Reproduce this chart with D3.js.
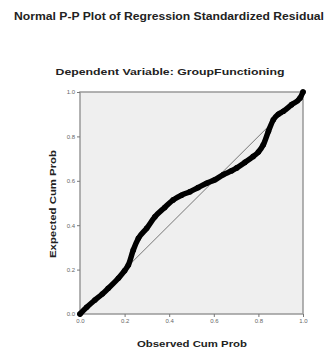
<!DOCTYPE html>
<html><head><meta charset="utf-8">
<script src="https://cdn.jsdelivr.net/npm/d3@7"></script>
<style>body{margin:0;background:#fff}svg{display:block}</style>
</head><body>
<svg id="c" width="328" height="349"></svg>
<script>
const title = "Normal P-P Plot of Regression Standardized Residual";
const subtitle = "Dependent Variable: GroupFunctioning";
const xLabel = "Observed Cum Prob";
const yLabel = "Expected Cum Prob";
const tickValues = [0, 0.2, 0.4, 0.6, 0.8, 1.0];
const tickLabels = ["0.0", "0.2", "0.4", "0.6", "0.8", "1.0"];
const observed = [0, 0.03, 0.067, 0.1, 0.127, 0.172, 0.2, 0.217, 0.239, 0.262, 0.299, 0.336, 0.38, 0.418, 0.455, 0.493, 0.53, 0.568, 0.605, 0.643, 0.68, 0.703, 0.74, 0.777, 0.8, 0.822, 0.845, 0.867, 0.89, 0.912, 0.949, 0.987, 1.0];
const expected = [0, 0.03, 0.063, 0.09, 0.116, 0.161, 0.195, 0.221, 0.288, 0.341, 0.386, 0.438, 0.48, 0.514, 0.535, 0.551, 0.57, 0.589, 0.605, 0.628, 0.645, 0.658, 0.683, 0.71, 0.73, 0.762, 0.823, 0.875, 0.9, 0.913, 0.943, 0.973, 1.0];

const svg = d3.select("#c");
const L = 80, R = 303, T = 92, B = 314;
const x = d3.scaleLinear().domain([0, 1]).range([L, R]);
const y = d3.scaleLinear().domain([0, 1]).range([B, T]);
const font = "'Liberation Sans', Arial, sans-serif";

svg.append("text").attr("x", 169).attr("y", 20).attr("text-anchor", "middle")
  .attr("font-family", font).attr("font-weight", "bold").attr("font-size", 10)
  .attr("fill", "#222").attr("textLength", 310).attr("lengthAdjust", "spacingAndGlyphs").text(title);
svg.append("text").attr("x", 170).attr("y", 75).attr("text-anchor", "middle")
  .attr("font-family", font).attr("font-weight", "bold").attr("font-size", 9.5)
  .attr("fill", "#222").attr("textLength", 229).attr("lengthAdjust", "spacingAndGlyphs").text(subtitle);

svg.append("rect").attr("x", L).attr("y", T).attr("width", R - L).attr("height", B - T)
  .attr("fill", "#efefef").attr("stroke", "#999").attr("stroke-width", 1.5);

const xAxis = d3.axisBottom(x).tickValues(tickValues).tickFormat((d, i) => tickLabels[i]).tickSize(3).tickPadding(2);
const yAxis = d3.axisLeft(y).tickValues(tickValues).tickFormat((d, i) => tickLabels[i]).tickSize(3).tickPadding(2);
const gx = svg.append("g").attr("transform", `translate(0,${B})`).call(xAxis);
const gy = svg.append("g").attr("transform", `translate(${L},0)`).call(yAxis);
[gx, gy].forEach(g => {
  g.select(".domain").remove();
  g.selectAll("line").attr("stroke", "#777");
  g.selectAll("text").attr("font-family", font).attr("font-size", 6).attr("fill", "#666");
});

svg.append("line").attr("x1", x(0)).attr("y1", y(0)).attr("x2", x(1)).attr("y2", y(1))
  .attr("stroke", "#777").attr("stroke-width", 1);

const pts = observed.map((d, i) => [d, expected[i]]);
svg.append("path").datum(pts)
  .attr("d", d3.line().x(d => x(d[0])).y(d => y(d[1])).curve(d3.curveMonotoneX))
  .attr("fill", "none").attr("stroke", "#000").attr("stroke-width", 5.5)
  .attr("stroke-linecap", "round").attr("stroke-linejoin", "round");
svg.append("g").selectAll("circle").data(pts).join("circle")
  .attr("cx", d => x(d[0])).attr("cy", d => y(d[1])).attr("r", 2.8).attr("fill", "#000");

svg.append("text").attr("x", 192).attr("y", 347).attr("text-anchor", "middle")
  .attr("font-family", font).attr("font-weight", "bold").attr("font-size", 9)
  .attr("fill", "#222").attr("textLength", 110).attr("lengthAdjust", "spacingAndGlyphs").text(xLabel);
svg.append("text").attr("transform", "translate(56,204) rotate(-90)").attr("text-anchor", "middle")
  .attr("font-family", font).attr("font-weight", "bold").attr("font-size", 9)
  .attr("fill", "#222").attr("textLength", 108).attr("lengthAdjust", "spacingAndGlyphs").text(yLabel);
</script>
</body></html>
